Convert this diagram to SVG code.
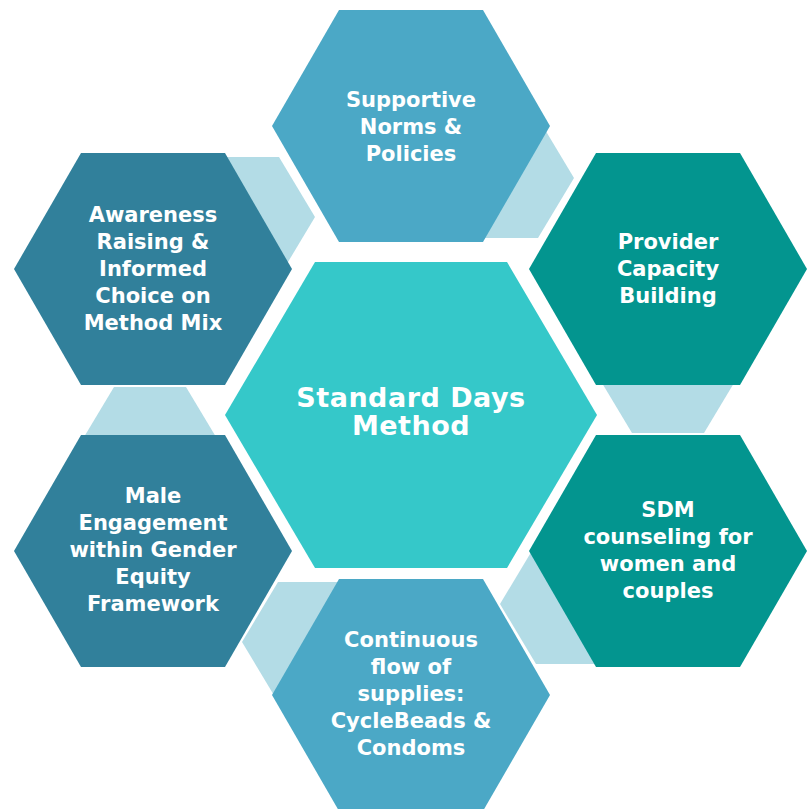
<svg xmlns="http://www.w3.org/2000/svg" width="808" height="809" viewBox="0 0 808 809">
  <style>
    .link { fill: #b3dce6; }
    .hub { fill: #35c8c9; }
    .blue { fill: #4ba8c6; }
    .deep { fill: #31809b; }
    .teal { fill: #03958f; }
    text { font-family: "DejaVu Sans", "Liberation Sans", sans-serif; font-weight: bold; fill: #ffffff; text-anchor: middle; }
    .lbl { font-size: 21px; }
    .hub-lbl { font-size: 27px; letter-spacing: 0.5px; }
  </style>

  <rect width="808" height="809" fill="#ffffff"/>

  <!-- light linking hexagons sitting behind the ring -->
  <g id="connectors">
    <polygon class="link" points="171,217 207,157 279,157 315,217 279,277 207,277"/>
    <polygon class="link" points="430,178 466,118 538,118 574,178 538,238 466,238"/>
    <polygon class="link" points="596,373 632,313 704,313 740,373 704,433 632,433"/>
    <polygon class="link" points="500,604 536,544 608,544 644,604 608,664 536,664"/>
    <polygon class="link" points="242,642 278,582 350,582 386,642 350,702 278,702"/>
    <polygon class="link" points="78,447 114,387 186,387 222,447 186,507 114,507"/>
  </g>

  <g id="supportive-norms">
    <polygon class="blue" points="272,126 339,10 483,10 550,126 483,242 339,242"/>
    <text class="lbl" x="411" y="107">Supportive</text>
    <text class="lbl" x="411" y="134">Norms &amp;</text>
    <text class="lbl" x="411" y="161">Policies</text>
  </g>

  <g id="awareness">
    <polygon class="deep" points="14,269 81,153 225,153 292,269 225,385 81,385"/>
    <text class="lbl" x="153" y="222">Awareness</text>
    <text class="lbl" x="153" y="249">Raising &amp;</text>
    <text class="lbl" x="153" y="276">Informed</text>
    <text class="lbl" x="153" y="303">Choice on</text>
    <text class="lbl" x="153" y="330">Method Mix</text>
  </g>

  <g id="provider-capacity">
    <polygon class="teal" points="529,269 596,153 740,153 807,269 740,385 596,385"/>
    <text class="lbl" x="668" y="249">Provider</text>
    <text class="lbl" x="668" y="276">Capacity</text>
    <text class="lbl" x="668" y="303">Building</text>
  </g>

  <g id="male-engagement">
    <polygon class="deep" points="14,551 81,435 225,435 292,551 225,667 81,667"/>
    <text class="lbl" x="153" y="503">Male</text>
    <text class="lbl" x="153" y="530">Engagement</text>
    <text class="lbl" x="153" y="557">within Gender</text>
    <text class="lbl" x="153" y="584">Equity</text>
    <text class="lbl" x="153" y="611">Framework</text>
  </g>

  <g id="sdm-counseling">
    <polygon class="teal" points="529,551 596,435 740,435 807,551 740,667 596,667"/>
    <text class="lbl" x="668" y="517">SDM</text>
    <text class="lbl" x="668" y="544">counseling for</text>
    <text class="lbl" x="668" y="571">women and</text>
    <text class="lbl" x="668" y="598">couples</text>
  </g>

  <g id="supplies">
    <polygon class="blue" points="272,695 339,579 483,579 550,695 483,811 339,811"/>
    <text class="lbl" x="411" y="647">Continuous</text>
    <text class="lbl" x="411" y="674">flow of</text>
    <text class="lbl" x="411" y="701">supplies:</text>
    <text class="lbl" x="411" y="728">CycleBeads &amp;</text>
    <text class="lbl" x="411" y="755">Condoms</text>
  </g>

  <g id="standard-days-method">
    <polygon class="hub" points="225,415 315,262 507,262 597,415 507,568 315,568"/>
    <text class="hub-lbl" x="411" y="407">Standard Days</text>
    <text class="hub-lbl" x="411" y="435">Method</text>
  </g>
</svg>
